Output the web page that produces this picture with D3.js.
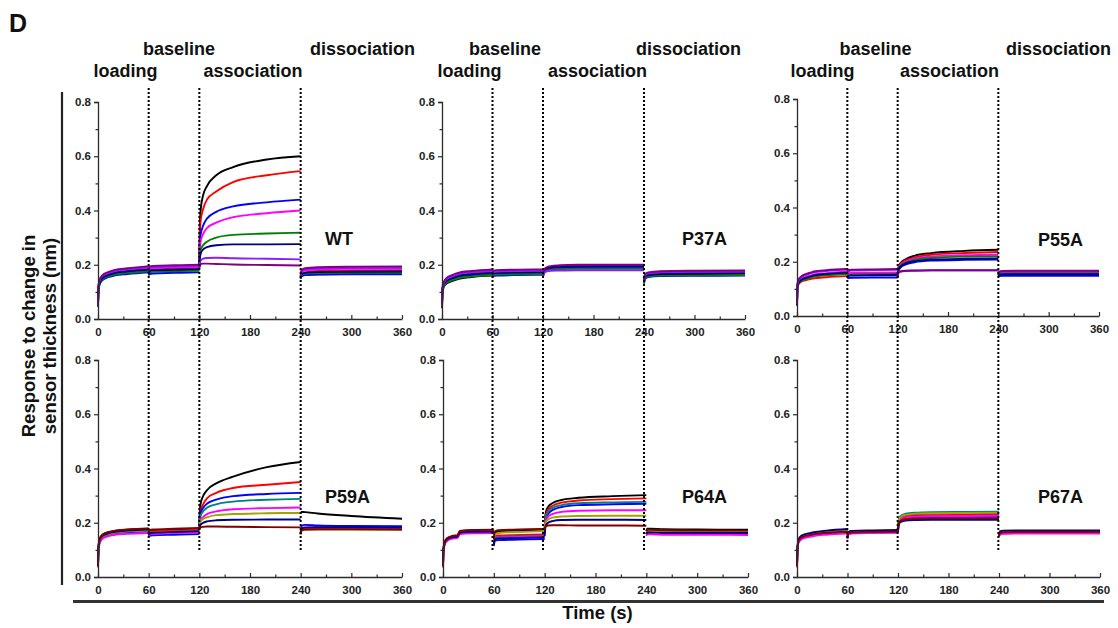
<!DOCTYPE html>
<html>
<head>
<meta charset="utf-8">
<script src="https://cdn.jsdelivr.net/npm/d3@7"></script>
<style>
  html, body { margin: 0; padding: 0; background: #fff; }
  svg { display: block; font-family: "Liberation Sans", Arial, sans-serif; }
</style>
</head>
<body>
<svg id="chart" width="1118" height="628"></svg>
<script>
// Sampling times (s) of each assay step
const loadT  = [0, 0.5, 2, 5, 12, 17, 20, 35, 60];
const baseT  = [60, 61, 65, 90, 120];
const assocT = [120, 120.5, 121.5, 124, 129, 140, 160, 200, 240];
const dissT  = [240, 241, 245, 260, 300, 360];

const phaseBounds = [60, 120, 240];
const phaseNames  = ["loading", "baseline", "association", "dissociation"];
const panelNames  = ["WT", "P37A", "P55A", "P59A", "P64A", "P67A"];
const xTicks = [0, 60, 120, 180, 240, 300, 360];
const yTicks = [0, 0.2, 0.4, 0.6, 0.8];

const topColors    = ["#000000", "#ff0000", "#0000ff", "#ff00ff", "#008000", "#000080", "#8a1cff", "#800080"];
const bottomColors = ["#000000", "#ff0000", "#0000ff", "#008080", "#ff00ff", "#a3a300", "#000080", "#800000"];

// Response (nm) per analyte concentration: loading | baseline | association | dissociation
const wtCurves = [
  [0.05,0.11,0.133,0.148,0.16,0.165,0.168,0.174,0.18, 0.168,0.176,0.178,0.18,0.182, 0.195,0.34,0.40,0.45,0.49,0.53,0.56,0.588,0.60, 0.15,0.158,0.162,0.165,0.166,0.167],
  [0.05,0.112,0.137,0.152,0.164,0.169,0.172,0.178,0.184, 0.172,0.18,0.183,0.185,0.187, 0.195,0.30,0.36,0.40,0.44,0.47,0.505,0.53,0.545, 0.152,0.165,0.172,0.177,0.179,0.18],
  [0.045,0.105,0.128,0.142,0.154,0.158,0.161,0.166,0.172, 0.16,0.166,0.168,0.17,0.172, 0.19,0.27,0.31,0.34,0.37,0.395,0.415,0.43,0.44, 0.148,0.158,0.162,0.164,0.165,0.165],
  [0.05,0.115,0.14,0.155,0.167,0.172,0.175,0.181,0.188, 0.176,0.185,0.188,0.19,0.192, 0.195,0.25,0.285,0.31,0.335,0.355,0.375,0.39,0.40, 0.155,0.172,0.179,0.183,0.185,0.186],
  [0.045,0.106,0.13,0.145,0.157,0.162,0.165,0.17,0.176, 0.165,0.172,0.174,0.176,0.178, 0.192,0.235,0.255,0.27,0.285,0.30,0.31,0.315,0.318, 0.15,0.162,0.167,0.169,0.17,0.17],
  [0.048,0.11,0.134,0.15,0.162,0.167,0.17,0.176,0.182, 0.17,0.178,0.18,0.182,0.184, 0.19,0.22,0.24,0.255,0.265,0.272,0.275,0.275,0.276, 0.152,0.165,0.17,0.173,0.174,0.175],
  [0.05,0.118,0.143,0.158,0.17,0.175,0.178,0.184,0.191, 0.18,0.189,0.192,0.194,0.196, 0.19,0.205,0.215,0.222,0.225,0.226,0.224,0.222,0.22, 0.157,0.176,0.183,0.187,0.189,0.19],
  [0.052,0.12,0.146,0.161,0.173,0.178,0.181,0.187,0.195, 0.183,0.193,0.196,0.198,0.2, 0.19,0.198,0.202,0.204,0.204,0.203,0.201,0.199,0.197, 0.158,0.18,0.187,0.191,0.193,0.194]
];
const p37aCurves = [
  [0.04,0.095,0.118,0.13,0.14,0.145,0.148,0.155,0.16, 0.155,0.162,0.165,0.168,0.17, 0.155,0.168,0.175,0.182,0.188,0.192,0.194,0.195,0.196, 0.135,0.15,0.158,0.162,0.164,0.165],
  [0.045,0.105,0.128,0.14,0.152,0.157,0.16,0.167,0.173, 0.162,0.17,0.172,0.174,0.175, 0.158,0.168,0.174,0.18,0.184,0.187,0.188,0.188,0.188, 0.138,0.156,0.164,0.168,0.17,0.171],
  [0.045,0.1,0.123,0.135,0.147,0.152,0.155,0.161,0.166, 0.152,0.158,0.16,0.162,0.163, 0.155,0.168,0.176,0.183,0.188,0.19,0.19,0.19,0.19, 0.13,0.148,0.155,0.158,0.159,0.16],
  [0.048,0.11,0.133,0.146,0.158,0.164,0.167,0.174,0.18, 0.168,0.176,0.178,0.18,0.181, 0.16,0.172,0.18,0.187,0.192,0.195,0.197,0.198,0.198, 0.14,0.162,0.17,0.174,0.176,0.177],
  [0.042,0.098,0.12,0.133,0.143,0.148,0.151,0.157,0.162, 0.156,0.162,0.164,0.165,0.166, 0.152,0.165,0.172,0.178,0.182,0.184,0.185,0.185,0.185, 0.132,0.15,0.157,0.16,0.161,0.162],
  [0.046,0.104,0.127,0.14,0.151,0.156,0.159,0.165,0.171, 0.16,0.168,0.17,0.172,0.173, 0.158,0.172,0.18,0.187,0.191,0.193,0.194,0.195,0.195, 0.136,0.155,0.162,0.166,0.168,0.169],
  [0.048,0.108,0.131,0.145,0.157,0.163,0.166,0.172,0.178, 0.165,0.173,0.175,0.177,0.178, 0.155,0.165,0.17,0.175,0.178,0.179,0.18,0.18,0.18, 0.14,0.16,0.168,0.172,0.174,0.175],
  [0.05,0.112,0.136,0.15,0.162,0.168,0.171,0.177,0.183, 0.17,0.178,0.18,0.182,0.183, 0.16,0.173,0.182,0.19,0.195,0.198,0.2,0.2,0.2, 0.142,0.164,0.172,0.176,0.178,0.179]
];
const p55aCurves = [
  [0.04,0.11,0.125,0.134,0.142,0.146,0.148,0.153,0.158, 0.148,0.152,0.154,0.155,0.156, 0.15,0.17,0.185,0.197,0.208,0.222,0.232,0.24,0.244, 0.15,0.155,0.157,0.158,0.158,0.158],
  [0.04,0.105,0.118,0.126,0.133,0.137,0.139,0.143,0.147, 0.15,0.155,0.157,0.158,0.159, 0.152,0.17,0.183,0.194,0.204,0.216,0.226,0.232,0.236, 0.152,0.157,0.159,0.16,0.16,0.16],
  [0.04,0.108,0.122,0.131,0.14,0.145,0.148,0.154,0.16, 0.138,0.14,0.141,0.142,0.142, 0.14,0.158,0.17,0.18,0.189,0.198,0.204,0.207,0.208, 0.145,0.147,0.148,0.148,0.148,0.148],
  [0.04,0.11,0.126,0.136,0.145,0.15,0.153,0.158,0.164, 0.152,0.157,0.159,0.16,0.161, 0.152,0.168,0.18,0.19,0.2,0.211,0.219,0.224,0.226, 0.155,0.16,0.162,0.163,0.163,0.163],
  [0.04,0.106,0.12,0.129,0.137,0.142,0.145,0.15,0.155, 0.146,0.15,0.152,0.153,0.154, 0.148,0.165,0.177,0.187,0.196,0.207,0.214,0.219,0.22, 0.15,0.155,0.156,0.157,0.157,0.157],
  [0.04,0.108,0.123,0.133,0.142,0.147,0.15,0.155,0.16, 0.144,0.148,0.149,0.15,0.151, 0.146,0.162,0.174,0.184,0.193,0.202,0.208,0.211,0.212, 0.148,0.152,0.153,0.154,0.154,0.154],
  [0.045,0.115,0.132,0.143,0.153,0.158,0.161,0.166,0.171, 0.16,0.166,0.168,0.169,0.17, 0.145,0.155,0.16,0.164,0.166,0.167,0.168,0.168,0.168, 0.155,0.162,0.164,0.165,0.165,0.165],
  [0.045,0.117,0.135,0.146,0.156,0.161,0.164,0.169,0.173, 0.163,0.169,0.171,0.172,0.173, 0.148,0.157,0.162,0.165,0.167,0.168,0.169,0.169,0.169, 0.158,0.164,0.166,0.167,0.167,0.167]
];
const p59aCurves = [
  [0.04,0.11,0.14,0.155,0.165,0.168,0.17,0.174,0.178, 0.16,0.167,0.17,0.173,0.176, 0.19,0.24,0.27,0.295,0.32,0.345,0.37,0.405,0.424, 0.235,0.24,0.239,0.234,0.225,0.215],
  [0.04,0.105,0.135,0.15,0.16,0.164,0.166,0.17,0.174, 0.158,0.165,0.168,0.171,0.174, 0.19,0.225,0.245,0.265,0.29,0.31,0.328,0.34,0.35, 0.16,0.178,0.183,0.184,0.184,0.183],
  [0.04,0.1,0.13,0.145,0.155,0.159,0.161,0.165,0.168, 0.148,0.152,0.154,0.156,0.158, 0.185,0.215,0.235,0.252,0.27,0.285,0.298,0.306,0.31, 0.165,0.188,0.192,0.19,0.188,0.187],
  [0.04,0.102,0.132,0.147,0.157,0.161,0.163,0.167,0.17, 0.152,0.158,0.161,0.163,0.166, 0.185,0.21,0.225,0.24,0.255,0.268,0.278,0.285,0.288, 0.158,0.175,0.18,0.181,0.181,0.18],
  [0.035,0.095,0.125,0.14,0.15,0.154,0.156,0.159,0.162, 0.15,0.156,0.159,0.162,0.165, 0.18,0.2,0.21,0.22,0.232,0.242,0.25,0.254,0.256, 0.156,0.172,0.177,0.178,0.178,0.177],
  [0.04,0.104,0.134,0.149,0.159,0.163,0.165,0.169,0.172, 0.155,0.161,0.164,0.167,0.17, 0.18,0.195,0.205,0.213,0.22,0.228,0.232,0.235,0.236, 0.155,0.17,0.174,0.175,0.175,0.174],
  [0.04,0.106,0.136,0.151,0.161,0.165,0.167,0.171,0.175, 0.154,0.16,0.163,0.166,0.169, 0.175,0.185,0.192,0.199,0.205,0.209,0.211,0.212,0.212, 0.16,0.178,0.182,0.183,0.183,0.182],
  [0.042,0.11,0.14,0.155,0.165,0.169,0.171,0.175,0.179, 0.165,0.172,0.175,0.178,0.181, 0.175,0.18,0.183,0.185,0.186,0.186,0.185,0.184,0.183, 0.16,0.172,0.175,0.176,0.176,0.175]
];
const p64aCurves = [
  [0.04,0.1,0.128,0.142,0.15,0.152,0.168,0.171,0.172, 0.135,0.16,0.168,0.172,0.175, 0.18,0.215,0.24,0.258,0.272,0.284,0.292,0.298,0.302, 0.17,0.178,0.178,0.176,0.175,0.174],
  [0.04,0.098,0.126,0.14,0.148,0.15,0.166,0.169,0.17, 0.125,0.148,0.153,0.155,0.157, 0.17,0.205,0.23,0.248,0.262,0.274,0.282,0.287,0.29, 0.158,0.164,0.164,0.163,0.162,0.161],
  [0.04,0.096,0.122,0.136,0.144,0.146,0.162,0.165,0.166, 0.115,0.132,0.136,0.138,0.14, 0.16,0.19,0.213,0.232,0.246,0.258,0.265,0.268,0.27, 0.16,0.166,0.166,0.165,0.164,0.163],
  [0.04,0.098,0.125,0.139,0.147,0.149,0.165,0.168,0.169, 0.122,0.143,0.148,0.15,0.152, 0.165,0.198,0.222,0.24,0.254,0.265,0.272,0.275,0.277, 0.16,0.166,0.166,0.165,0.165,0.164],
  [0.035,0.094,0.12,0.134,0.142,0.144,0.158,0.161,0.162, 0.12,0.14,0.145,0.148,0.15, 0.165,0.19,0.208,0.222,0.232,0.24,0.244,0.246,0.246, 0.152,0.157,0.157,0.156,0.156,0.155],
  [0.04,0.1,0.127,0.141,0.149,0.151,0.167,0.17,0.171, 0.13,0.155,0.162,0.166,0.169, 0.17,0.19,0.203,0.212,0.219,0.223,0.225,0.226,0.226, 0.162,0.169,0.169,0.168,0.168,0.167],
  [0.04,0.098,0.125,0.139,0.147,0.149,0.164,0.167,0.168, 0.118,0.138,0.142,0.144,0.146, 0.15,0.175,0.19,0.2,0.206,0.21,0.211,0.211,0.21, 0.158,0.164,0.164,0.163,0.163,0.162],
  [0.042,0.102,0.13,0.144,0.152,0.154,0.17,0.173,0.174, 0.14,0.168,0.173,0.175,0.177, 0.175,0.183,0.188,0.19,0.191,0.191,0.19,0.19,0.189, 0.168,0.174,0.174,0.173,0.172,0.171]
];
const p67aCurves = [
  [0.04,0.1,0.135,0.146,0.154,0.157,0.159,0.165,0.17, 0.15,0.165,0.168,0.17,0.171, 0.172,0.2,0.213,0.222,0.228,0.232,0.234,0.235,0.236, 0.152,0.165,0.168,0.169,0.17,0.17],
  [0.04,0.098,0.132,0.142,0.15,0.153,0.155,0.16,0.165, 0.145,0.16,0.163,0.165,0.166, 0.17,0.196,0.208,0.216,0.222,0.226,0.228,0.229,0.23, 0.15,0.158,0.161,0.162,0.162,0.162],
  [0.04,0.099,0.133,0.144,0.152,0.155,0.157,0.163,0.168, 0.142,0.158,0.162,0.164,0.165, 0.168,0.192,0.204,0.211,0.216,0.219,0.221,0.222,0.222, 0.15,0.16,0.163,0.164,0.164,0.164],
  [0.04,0.1,0.135,0.146,0.154,0.157,0.159,0.164,0.169, 0.148,0.163,0.166,0.168,0.169, 0.175,0.203,0.217,0.227,0.233,0.237,0.239,0.24,0.241, 0.152,0.164,0.167,0.168,0.168,0.168],
  [0.035,0.095,0.128,0.138,0.146,0.149,0.151,0.156,0.16, 0.14,0.156,0.16,0.162,0.163, 0.17,0.194,0.206,0.214,0.219,0.222,0.224,0.225,0.226, 0.148,0.156,0.159,0.16,0.16,0.16],
  [0.04,0.102,0.137,0.148,0.156,0.159,0.161,0.166,0.171, 0.15,0.165,0.168,0.17,0.171, 0.172,0.2,0.214,0.223,0.229,0.233,0.235,0.236,0.237, 0.152,0.164,0.167,0.168,0.168,0.168],
  [0.045,0.105,0.14,0.152,0.16,0.163,0.165,0.171,0.177, 0.148,0.166,0.17,0.172,0.173, 0.165,0.188,0.198,0.204,0.208,0.21,0.211,0.211,0.211, 0.155,0.168,0.171,0.172,0.172,0.172],
  [0.04,0.1,0.134,0.145,0.153,0.156,0.158,0.163,0.167, 0.146,0.161,0.164,0.166,0.167, 0.168,0.19,0.202,0.209,0.213,0.215,0.216,0.216,0.216, 0.15,0.162,0.165,0.166,0.166,0.166]
];

const panelCurves = [wtCurves, p37aCurves, p55aCurves, p59aCurves, p64aCurves, p67aCurves];
const phaseTimes = [loadT, baseT, assocT, dissT];

// Plot-area geometry of the six panels (px)
const frames = [
  { x0: 98,  x1: 402,  yTop: 102, yBot: 319, lab: [227, 245] },
  { x0: 442, x1: 745,  yTop: 102, yBot: 319, lab: [240, 245] },
  { x0: 797, x1: 1099, yTop: 99,  yBot: 316, lab: [241, 246] },
  { x0: 98,  x1: 402,  yTop: 360, yBot: 577, lab: [227, 503] },
  { x0: 443, x1: 748,  yTop: 360, yBot: 577, lab: [239, 503] },
  { x0: 797, x1: 1100, yTop: 360, yBot: 577, lab: [241, 503] }
];
// Step-name positions above each column: [dx from axis, baseline y]
const stepLabelPos = [
  [[27.5, 77], [81, 55], [155, 77], [264.5, 55]],
  [[27.5, 77], [63, 55], [155.5, 77], [246.5, 55]],
  [[25.5, 77], [78.5, 55], [152.5, 77], [261.5, 55]]
];

const svg = d3.select("#chart");
const axisColor = "#2b2b2b";

svg.append("text").attr("x", 9).attr("y", 31.5)
  .attr("font-size", 25).attr("font-weight", "bold").attr("fill", "#111").text("D");

panelNames.forEach((name, p) => {
  const f = frames[p];
  const x = d3.scaleLinear().domain([0, 360]).range([f.x0, f.x1]);
  const y = d3.scaleLinear().domain([0, 0.8]).range([f.yBot, f.yTop]);
  const colors = p < 3 ? topColors : bottomColors;
  const g = svg.append("g");

  // traces, one path per step so the step changes are not joined
  const line = d3.line().x(d => x(d[0])).y(d => y(d[1])).curve(d3.curveMonotoneX);
  panelCurves[p].forEach((vals, i) => {
    let k = 0;
    phaseTimes.forEach(ts => {
      const pts = ts.map((t, j) => [t, vals[k + j]]);
      k += ts.length;
      g.append("path").attr("d", line(pts))
        .attr("fill", "none").attr("stroke", colors[i])
        .attr("stroke-width", 1.9).attr("stroke-linejoin", "round");
    });
  });

  // y axis: outward ticks
  const yAxis = g.append("g").attr("transform", `translate(${f.x0},0)`)
    .call(d3.axisLeft(y).tickValues(yTicks).tickFormat(d3.format(".1f")).tickSize(4).tickPadding(3));
  g.append("g").attr("transform", `translate(${f.x0},0)`)
    .call(d3.axisLeft(y).tickValues([0.1, 0.3, 0.5, 0.7]).tickFormat("").tickSize(2.5))
    .select(".domain").remove();

  // x axis: inward ticks
  const xAxis = g.append("g").attr("transform", `translate(0,${f.yBot})`)
    .call(d3.axisBottom(x).tickValues(xTicks).tickSizeInner(-4).tickSizeOuter(0).tickPadding(9));
  g.append("g").attr("transform", `translate(0,${f.yBot})`)
    .call(d3.axisBottom(x).tickValues([30, 90, 150, 210, 270, 330]).tickFormat("").tickSize(-2.5))
    .select(".domain").remove();

  g.selectAll(".domain").attr("stroke", axisColor).attr("stroke-width", 1.3);
  g.selectAll(".tick line").attr("stroke", axisColor).attr("stroke-width", 1.2);
  g.selectAll(".tick text").attr("font-size", 11.5).attr("font-weight", "bold")
    .attr("fill", "#222").attr("font-family", "Liberation Sans, Arial, sans-serif");

  g.append("text").attr("x", f.x0 + f.lab[0]).attr("y", f.lab[1])
    .attr("font-size", 18).attr("font-weight", "bold").attr("fill", "#111").text(name);
});

// step boundaries and step names for each column
[0, 1, 2].forEach(c => {
  const f = frames[c];
  const x = d3.scaleLinear().domain([0, 360]).range([f.x0, f.x1]);
  phaseBounds.forEach(t => {
    svg.append("line")
      .attr("x1", x(t)).attr("x2", x(t)).attr("y1", 88).attr("y2", 550)
      .attr("stroke", "#000").attr("stroke-width", 2).attr("stroke-dasharray", "2,2");
  });
  phaseNames.forEach((nm, i) => {
    const pos = stepLabelPos[c][i];
    svg.append("text").attr("x", f.x0 + pos[0]).attr("y", pos[1])
      .attr("text-anchor", "middle").attr("font-size", 18).attr("font-weight", "bold")
      .attr("fill", "#111").text(nm);
  });
});

// shared axis titles
svg.append("line").attr("x1", 62).attr("x2", 62).attr("y1", 92).attr("y2", 585)
  .attr("stroke", "#222").attr("stroke-width", 2.2);
svg.append("line").attr("x1", 73).attr("x2", 1104).attr("y1", 601.5).attr("y2", 601.5)
  .attr("stroke", "#333").attr("stroke-width", 3);

const yTitle = svg.append("text").attr("transform", "translate(0,336) rotate(-90)")
  .attr("text-anchor", "middle").attr("font-size", 18.5).attr("font-weight", "bold").attr("fill", "#111");
yTitle.append("tspan").attr("x", 0).attr("y", 35).text("Response to change in");
yTitle.append("tspan").attr("x", 0).attr("y", 56).text("sensor thickness (nm)");

svg.append("text").attr("x", 597.5).attr("y", 619).attr("text-anchor", "middle")
  .attr("font-size", 18.5).attr("font-weight", "bold").attr("fill", "#111").text("Time (s)");
</script>
</body>
</html>
